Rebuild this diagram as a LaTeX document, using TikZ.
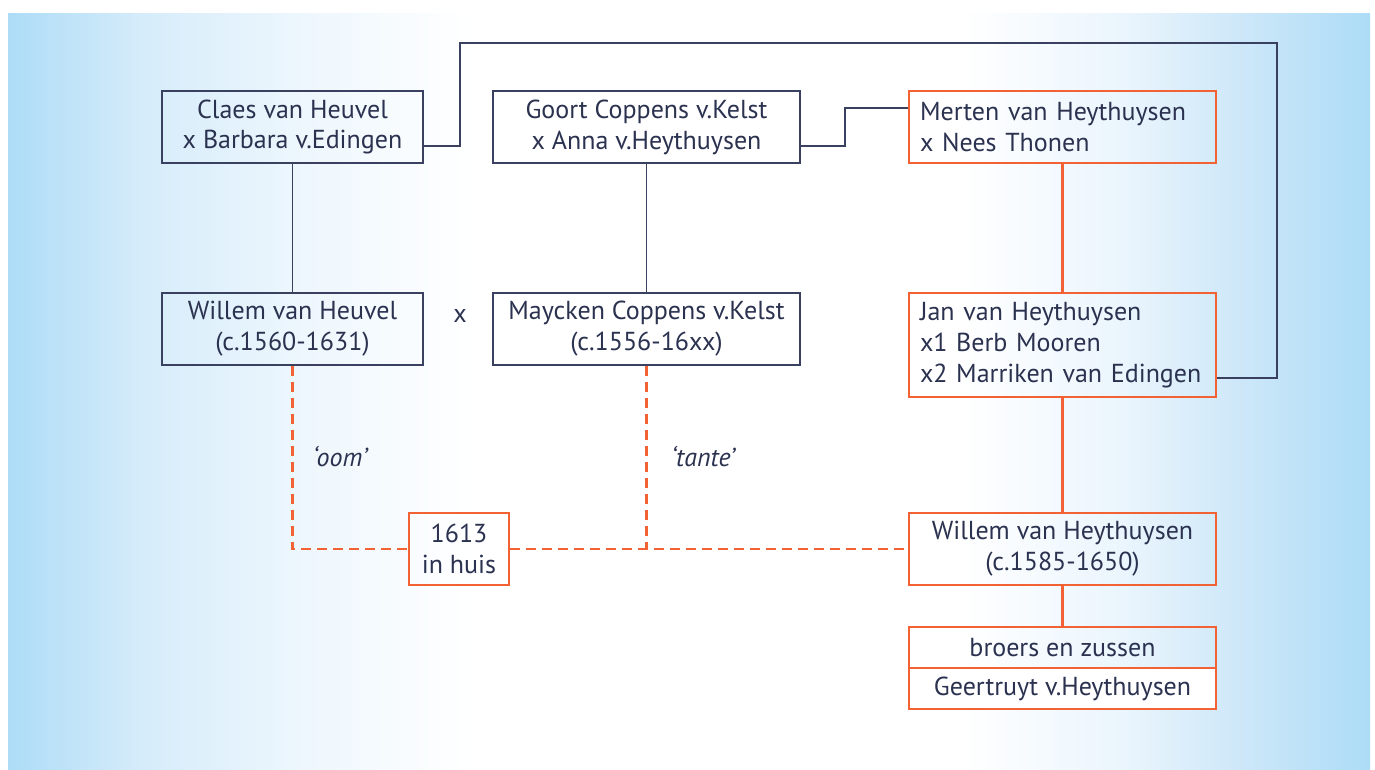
\documentclass[tikz,border=0pt]{standalone}
\usepackage{fontspec}
\setmainfont{PT Sans}
\usetikzlibrary{calc,fadings}
\definecolor{bgblue}{HTML}{ADDCF7}
\definecolor{bgA}{HTML}{D6ECFA}
\definecolor{bgB}{HTML}{EEF7FD}
\definecolor{bgC}{HTML}{EAF5FD}
\definecolor{bgD}{HTML}{CFE8F9}
\definecolor{txt}{HTML}{2B3250}
\definecolor{dark}{HTML}{3A4060}
\definecolor{orng}{HTML}{F26234}
\pgfdeclarehorizontalshading{bgshade}{100bp}{color(0bp)=(bgblue); color(25bp)=(bgblue); color(30bp)=(bgA); color(36bp)=(bgB); color(42bp)=(white); color(60bp)=(white); color(66bp)=(bgC); color(70bp)=(bgD); color(75bp)=(bgblue); color(100bp)=(bgblue)}
\tikzfading[name=bandfade, top color=transparent!100, middle color=transparent!0, bottom color=transparent!100]
\begin{document}
\begin{tikzpicture}[x=0.75pt,y=-0.75pt,
  every node/.style={text=txt, font=\fontsize{19.5}{23.2}\selectfont},
  pbox/.style={draw=dark, line width=0.9pt, rectangle, inner sep=0pt, align=center, minimum height=54pt},
  obox/.style={draw=orng, line width=1.6pt, rectangle, inner sep=0pt, align=center, minimum height=54pt},
  lbox/.style={draw=orng, line width=1.6pt, rectangle, inner xsep=8.25pt, inner ysep=0pt, text width=213.75pt, align=left, minimum height=54pt},
  dline/.style={draw=dark, line width=0.9pt},
  oline/.style={draw=orng, line width=1.6pt},
  odash/.style={draw=orng, line width=1.6pt, dash pattern=on 7.5pt off 4.5pt},
  lbl/.style={font=\fontsize{19.5}{23.2}\selectfont\itshape}
]
\useasboundingbox (0,0) rectangle (1375,769);
\fill[white] (0,0) rectangle (1375,769);
\shade[shading=bgshade] (8,13) rectangle (1370,769);
\shade[left color=bgblue, right color=white, path fading=bandfade, fill opacity=0.45] (8,530) rectangle (600,620);
\shade[left color=white, right color=bgblue, path fading=bandfade, fill opacity=0.25] (800,530) rectangle (1370,620);

% nodes
\node[pbox, minimum width=195.75pt] (claes) at (292.5,127) {Claes van Heuvel\\x Barbara v.Edingen};
\node[pbox, minimum width=230.25pt] (goort) at (646.5,127) {Goort Coppens v.Kelst\\x Anna v.Heythuysen};
\node[lbox] (merten) at (1062.5,127) {Merten van Heythuysen\\x Nees Thonen};
\node[pbox, minimum width=195.75pt] (willem) at (292.5,329) {Willem van Heuvel\\(c.1560-1631)};
\node (x) at (460,316) {x};
\node[pbox, minimum width=230.25pt] (maycken) at (646.5,329) {Maycken Coppens v.Kelst\\(c.1556-16xx)};
\node[lbox, minimum height=78pt] (jan) at (1062.5,345) {Jan van Heythuysen\\x1 Berb Mooren\\x2 Marriken van Edingen};
\node[obox, minimum width=75pt] (huis) at (459,549) {1613\\in huis};
\node[obox, minimum width=230.25pt] (wh) at (1062.5,549) {Willem van Heythuysen\\(c.1585-1650)};
\node[obox, minimum width=230.25pt, minimum height=30.75pt] (broers) at (1062.5,647.5) {broers en zussen};
\node[obox, fill=white, minimum width=230.25pt, minimum height=30.75pt] (geer) at (1062.5,688.5) {Geertruyt v.Heythuysen};
\node[lbl] (oom) at (340,457) {‘oom’};
\node[lbl] (tante) at (703,457) {‘tante’};

% coordinates for connector routing
\coordinate (c0) at (460,146);
\coordinate (c1) at (460,43);
\coordinate (c2) at (1277,43);
\coordinate (c3) at (1277,378);
\coordinate (k0) at (845,146);
\coordinate (k1) at (845,108);

% dark connectors
\draw[dline] (c0 -| claes.east) -- (c0) -- (c1) -- (c2) -- (c3) -- (c3 -| jan.east);
\draw[dline] (k0 -| goort.east) -- (k0) -- (k1) -- (k1 -| merten.west);
\draw[dline] (claes.south) -- (willem.north);
\draw[dline] (goort.south) -- (maycken.north);

% orange connectors
\draw[oline] (merten.south) -- (jan.north);
\draw[oline] (jan.south) -- (wh.north);
\draw[oline] (wh.south) -- (broers.north);

% dashed
\draw[odash] (willem.south) |- (huis.west);
\draw[odash] (huis.east) -- (wh.west);
\draw[odash] (maycken.south) -- (maycken.south |- huis.east);
\end{tikzpicture}
\end{document}
